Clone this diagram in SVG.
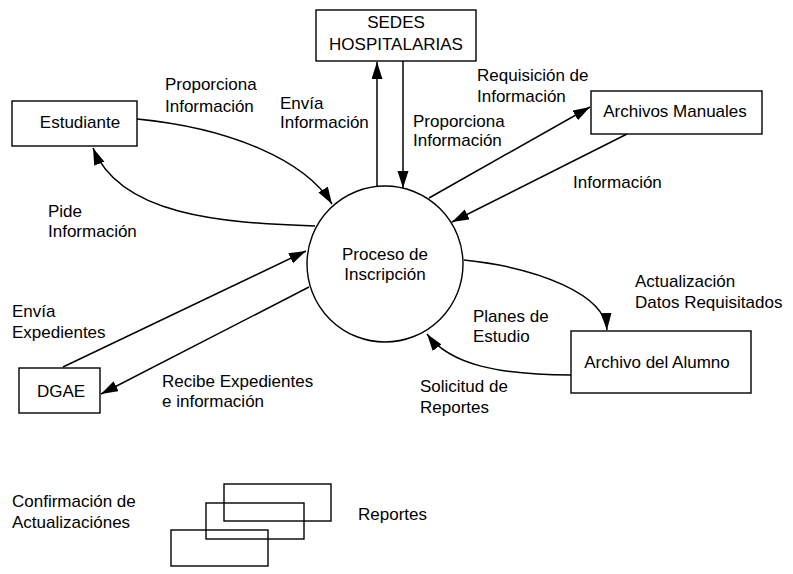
<svg xmlns="http://www.w3.org/2000/svg" width="793" height="574" viewBox="0 0 793 574">
<style>
  .box { fill: #fff; stroke: #000; stroke-width: 1.4; }
  .leg { fill: none; stroke: #000; stroke-width: 1.4; }
  .t { font-family: "Liberation Sans", Arial, sans-serif; font-size: 17px; fill: #000; }
  .c { text-anchor: middle; }
  .ln { fill: none; stroke: #000; stroke-width: 1.5; }
</style>
<defs>
  <marker id="ah" markerUnits="userSpaceOnUse" markerWidth="18" markerHeight="12" refX="17" refY="5.5" orient="auto">
    <path d="M0,0 L17,5.5 L0,11 z" fill="#000"/>
  </marker>
</defs>
<rect width="793" height="574" fill="#fff"/>

<g id="connectors">
  <line class="ln" x1="377" y1="187" x2="377" y2="62" marker-end="url(#ah)"/>
  <line class="ln" x1="403" y1="61" x2="403" y2="188" marker-end="url(#ah)"/>
  <line class="ln" x1="429" y1="198" x2="590" y2="107" marker-end="url(#ah)"/>
  <line class="ln" x1="627" y1="134" x2="452" y2="222" marker-end="url(#ah)"/>
  <path class="ln" d="M137,119 C230,128 305,160 332,204" marker-end="url(#ah)"/>
  <path class="ln" d="M315,226 C220,223 120,215 93,148" marker-end="url(#ah)"/>
  <line class="ln" x1="63" y1="367" x2="306" y2="251" marker-end="url(#ah)"/>
  <line class="ln" x1="309" y1="287" x2="101" y2="394" marker-end="url(#ah)"/>
  <path class="ln" d="M464,260 C540,268 605,295 607,330" marker-end="url(#ah)"/>
  <path class="ln" d="M571,375 C500,375 450,365 427,334" marker-end="url(#ah)"/>
</g>

<g id="estudiante">
  <rect class="box" x="12" y="101" width="125" height="45"/>
  <text class="t c" x="80" y="128">Estudiante</text>
</g>
<g id="sedes">
  <rect class="box" x="316" y="10" width="160" height="51"/>
  <text class="t c" x="396" y="28">SEDES</text>
  <text class="t c" x="396" y="50">HOSPITALARIAS</text>
</g>
<g id="archivos-manuales">
  <rect class="box" x="591" y="91" width="171" height="43"/>
  <text class="t c" x="675" y="117">Archivos Manuales</text>
</g>
<g id="proceso">
  <circle class="box" cx="385" cy="264" r="78"/>
  <text class="t c" x="385" y="260">Proceso de</text>
  <text class="t c" x="385" y="280">Inscripción</text>
</g>
<g id="dgae">
  <rect class="box" x="19" y="368" width="81" height="45"/>
  <text class="t c" x="61" y="397">DGAE</text>
</g>
<g id="archivo-alumno">
  <rect class="box" x="571" y="331" width="180" height="62"/>
  <text class="t c" x="657" y="368">Archivo del Alumno</text>
</g>

<g id="labels">
  <text class="t" x="165" y="90">Proporciona</text>
  <text class="t" x="165" y="112">Información</text>
  <text class="t" x="280" y="109">Envía</text>
  <text class="t" x="280" y="128">Información</text>
  <text class="t" x="413" y="127">Proporciona</text>
  <text class="t" x="413" y="146">Información</text>
  <text class="t" x="477" y="81">Requisición de</text>
  <text class="t" x="477" y="102">Información</text>
  <text class="t" x="573" y="188">Información</text>
  <text class="t" x="48" y="217">Pide</text>
  <text class="t" x="48" y="237">Información</text>
  <text class="t" x="12" y="317">Envía</text>
  <text class="t" x="12" y="338">Expedientes</text>
  <text class="t" x="162" y="387">Recibe Expedientes</text>
  <text class="t" x="162" y="407">e información</text>
  <text class="t" x="473" y="322">Planes de</text>
  <text class="t" x="473" y="342">Estudio</text>
  <text class="t" x="420" y="392">Solicitud de</text>
  <text class="t" x="420" y="413">Reportes</text>
  <text class="t" x="635" y="287">Actualización</text>
  <text class="t" x="635" y="308">Datos Requisitados</text>
</g>

<g id="legend">
  <rect class="leg" x="224" y="484" width="107" height="37"/>
  <rect class="leg" x="206" y="503" width="98" height="36"/>
  <rect class="leg" x="171" y="530" width="97" height="36"/>
  <text class="t" x="12" y="507">Confirmación de</text>
  <text class="t" x="12" y="528">Actualizaciónes</text>
  <text class="t" x="358" y="520">Reportes</text>
</g>
</svg>
